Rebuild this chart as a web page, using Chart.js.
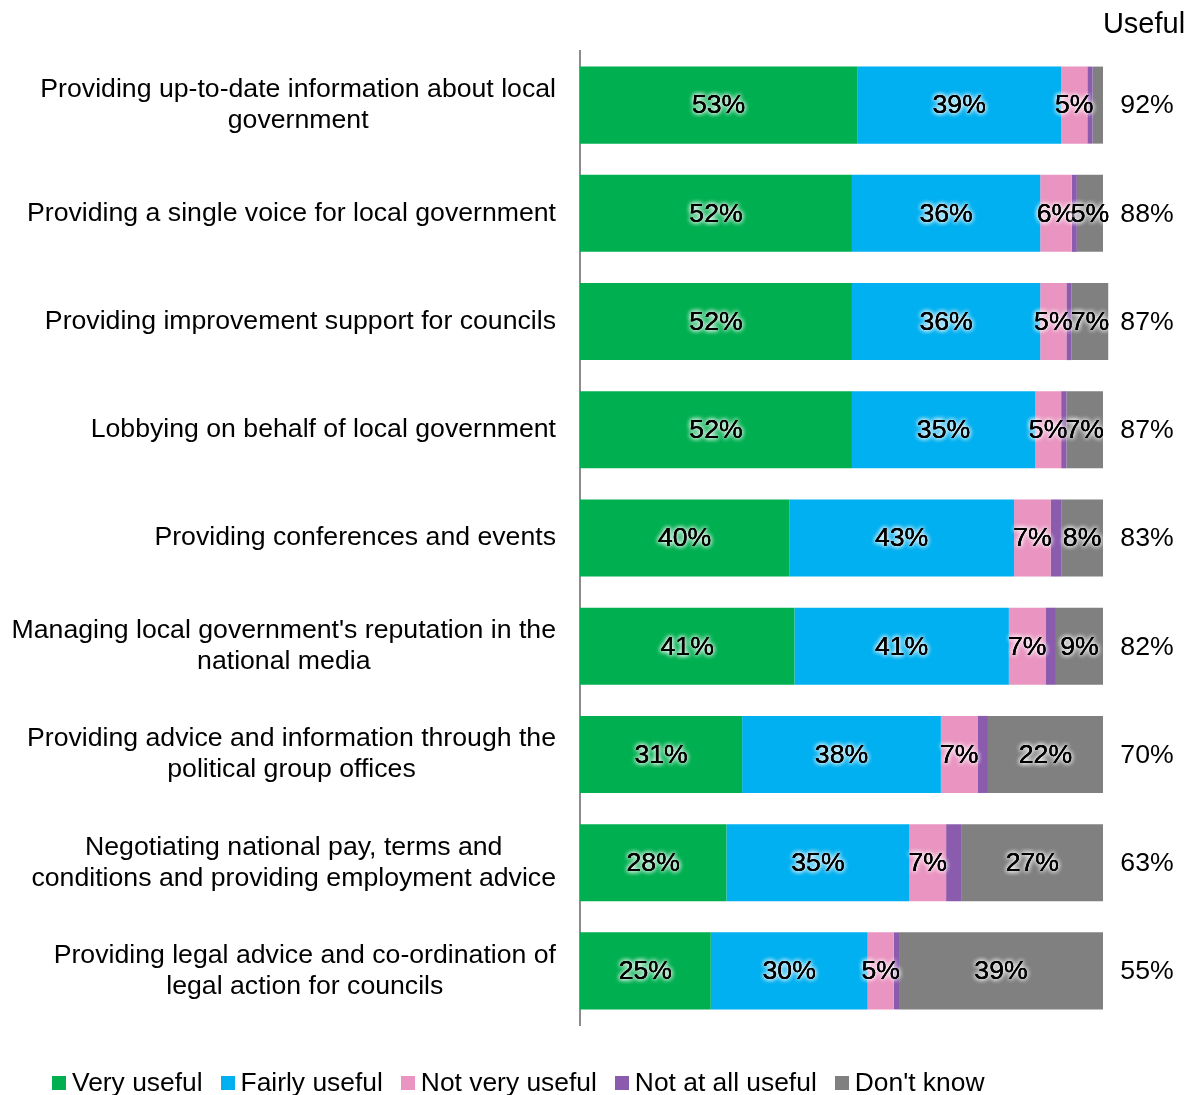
<!DOCTYPE html>
<html lang="en">
<head>
    <meta charset="UTF-8">
    <title>Usefulness of services</title>
    <script src="https://cdn.jsdelivr.net/npm/chart.js"></script>
    <style>
        body {
            margin: 0;
            padding: 0;
            background: #ffffff;
            font-family: "Liberation Sans", Arial, sans-serif;
        }
        .wrap {
            position: relative;
            width: 1193px;
            height: 1095px;
            overflow: hidden;
        }
        .legend {
            position: absolute;
            left: 52px;
            top: 1067px;
            display: flex;
            font-size: 26.4px;
            line-height: 31px;
            color: #000;
            white-space: nowrap;
        }
        .legend span.item {
            display: flex;
            align-items: center;
            margin-right: 18px;
        }
        .legend span.box {
            display: inline-block;
            width: 14px;
            height: 14px;
            margin-right: 6px;
        }
    </style>
</head>
<body>
    <div class="wrap">
        <canvas id="usefulChart" width="1193" height="1095"></canvas>
        <div class="legend" id="legend"></div>
    </div>
    <script>
        const categories = [
            ['Providing up-to-date information about local', 'government'],
            'Providing a single voice for local government',
            'Providing improvement support for councils',
            'Lobbying on behalf of local government',
            'Providing conferences and events',
            ["Managing local government's reputation in the", 'national media'],
            ['Providing advice and information through the', 'political group offices'],
            ['Negotiating national pay, terms and', 'conditions and providing employment advice'],
            ['Providing legal advice and co-ordination of', 'legal action for councils']
        ];

        const veryUseful     = [53, 52, 52, 52, 40, 41, 31, 28, 25];
        const fairlyUseful   = [39, 36, 36, 35, 43, 41, 38, 35, 30];
        const notVeryUseful  = [5, 6, 5, 5, 7, 7, 7, 7, 5];
        const notAtAllUseful = [1, 1, 1, 1, 2, 2, 2, 3, 1];
        const dontKnow       = [2, 5, 7, 7, 8, 9, 22, 27, 39];

        // "Useful" column (very + fairly, rounded from the survey totals)
        const usefulTotals = [92, 88, 87, 87, 83, 82, 70, 63, 55];

        const seriesNames = ['Very useful', 'Fairly useful', 'Not very useful', 'Not at all useful', "Don't know"];
        const seriesColors = ['#00b050', '#00b0f0', '#ea94c1', '#8b5bad', '#808080'];
        const seriesData = [veryUseful, fairlyUseful, notVeryUseful, notAtAllUseful, dontKnow];

        const FONT = '"Liberation Sans", Arial, sans-serif';
        const FONT_SIZE = 26.67;
        const LINE_H = 31;

        // category names: block right-aligned against the axis, lines centred in the block
        const categoryLabels = {
            id: 'categoryLabels',
            afterDraw(chart) {
                const ctx = chart.ctx;
                const yScale = chart.scales.y;
                const rightEdge = yScale.right - 24;
                ctx.save();
                ctx.font = FONT_SIZE + 'px ' + FONT;
                ctx.fillStyle = '#000';
                ctx.textAlign = 'center';
                ctx.textBaseline = 'middle';
                chart.data.labels.forEach((label, i) => {
                    const lines = Array.isArray(label) ? label : [label];
                    const w = Math.max(...lines.map(l => ctx.measureText(l).width));
                    const cx = rightEdge - w / 2;
                    const cy = yScale.getPixelForValue(i);
                    const top = cy - (lines.length - 1) * LINE_H / 2;
                    lines.forEach((l, k) => ctx.fillText(l, cx, top + k * LINE_H));
                });
                ctx.restore();
            }
        };

        // percentage labels inside the segments, with a soft white halo
        const segmentLabels = {
            id: 'segmentLabels',
            afterDatasetsDraw(chart) {
                const ctx = chart.ctx;
                ctx.save();
                ctx.font = FONT_SIZE + 'px ' + FONT;
                ctx.textAlign = 'center';
                ctx.textBaseline = 'middle';
                chart.data.datasets.forEach((ds, i) => {
                    const meta = chart.getDatasetMeta(i);
                    meta.data.forEach((bar, j) => {
                        const v = ds.data[j];
                        if (v < 5) return;
                        const x = (bar.x + bar.base) / 2;
                        const y = bar.y + 1;
                        ctx.shadowColor = 'rgba(255,255,255,0.9)';
                        ctx.shadowBlur = 5;
                        ctx.fillStyle = '#000';
                        for (let k = 0; k < 3; k++) ctx.fillText(v + '%', x, y);
                        ctx.shadowBlur = 0;
                        ctx.fillText(v + '%', x, y);
                    });
                });
                ctx.restore();
            }
        };

        // "Useful" totals to the right of the bars
        const usefulColumn = {
            id: 'usefulColumn',
            afterDraw(chart) {
                const ctx = chart.ctx;
                const area = chart.chartArea;
                const yScale = chart.scales.y;
                const cx = area.right + 44;
                ctx.save();
                ctx.fillStyle = '#000';
                ctx.textAlign = 'center';
                ctx.textBaseline = 'middle';
                ctx.font = '29px ' + FONT;
                ctx.fillText('Useful', cx - 3, 25);
                ctx.font = FONT_SIZE + 'px ' + FONT;
                usefulTotals.forEach((v, i) => {
                    ctx.fillText(v + '%', cx, yScale.getPixelForValue(i) + 1);
                });
                ctx.restore();
            }
        };

        const ctx = document.getElementById('usefulChart').getContext('2d');
        new Chart(ctx, {
            type: 'bar',
            data: {
                labels: categories,
                datasets: seriesNames.map((name, i) => ({
                    label: name,
                    data: seriesData[i],
                    backgroundColor: seriesColors[i],
                    borderWidth: 0,
                    barPercentage: 0.712,
                    categoryPercentage: 1,
                    clip: false
                }))
            },
            options: {
                indexAxis: 'y',
                responsive: false,
                animation: false,
                layout: {
                    padding: { top: 51, right: 90, bottom: 70, left: 0 }
                },
                plugins: {
                    legend: { display: false },
                    tooltip: { enabled: false }
                },
                scales: {
                    x: {
                        stacked: true,
                        min: 0,
                        max: 100,
                        display: false
                    },
                    y: {
                        stacked: true,
                        grid: { display: false, drawTicks: false },
                        border: { display: true, color: '#8c8c8c', width: 2 },
                        ticks: { display: false },
                        afterFit(scale) {
                            scale.width = 580;
                        }
                    }
                }
            },
            plugins: [categoryLabels, segmentLabels, usefulColumn]
        });

        // legend row under the chart
        const legend = document.getElementById('legend');
        seriesNames.forEach((name, i) => {
            const item = document.createElement('span');
            item.className = 'item';
            const box = document.createElement('span');
            box.className = 'box';
            box.style.background = seriesColors[i];
            item.appendChild(box);
            item.appendChild(document.createTextNode(name));
            legend.appendChild(item);
        });
    </script>
</body>
</html>
